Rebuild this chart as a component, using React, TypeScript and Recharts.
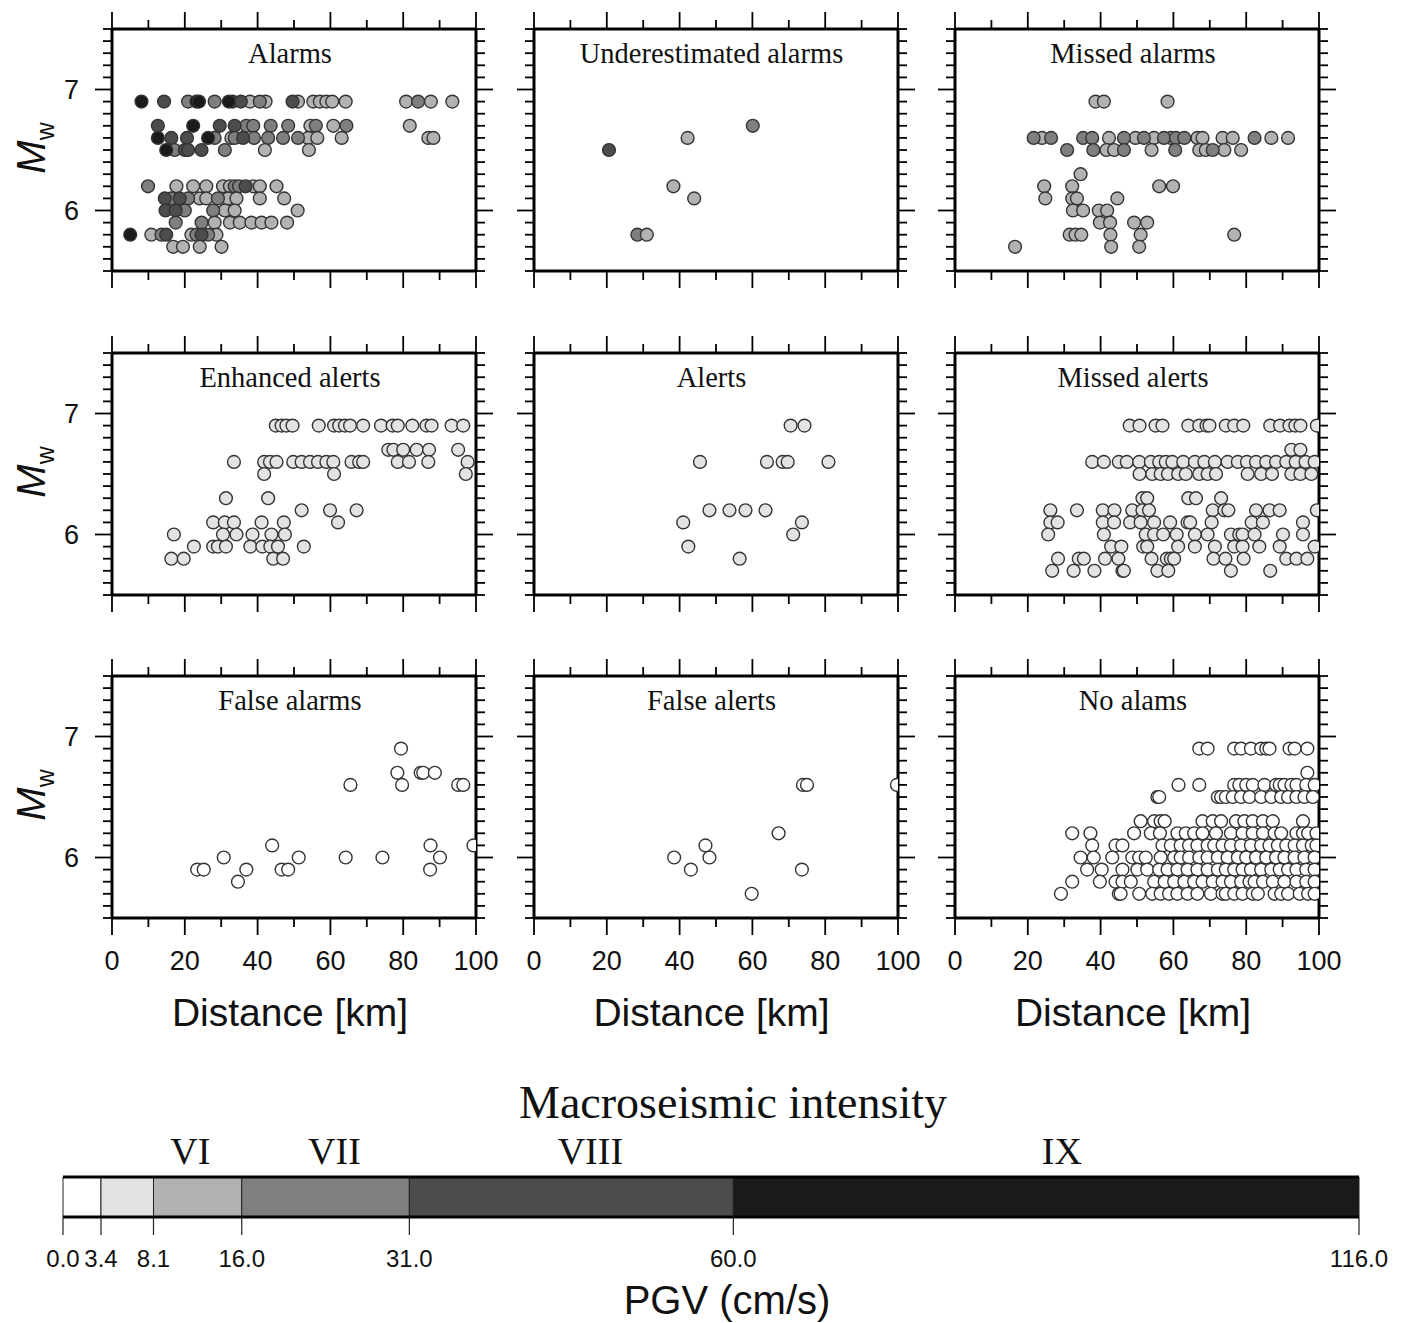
import React from 'react';
import { ScatterChart, Scatter, XAxis, YAxis, BarChart, Bar, ReferenceLine } from 'recharts';

// each row: [Mw, PGV class index, epicentral distances in km]
type Row = [number, number, number[]];

// PGV class boundaries (cm/s) and the grey used for each class
const pgvBreaks = [0, 3.4, 8.1, 16, 31, 60, 116];
const bandFills = ['#ffffff', '#e3e3e3', '#b2b2b2', '#7f7f7f', '#4c4c4c', '#1a1a1a'];
const intensityNames = ['VI', 'VII', 'VIII', 'IX'];
const intensityAt = [11.4, 24.3, 47.2, 89.4];

const distTicks = [0, 10, 20, 30, 40, 50, 60, 70, 80, 90, 100];
const mwTicks = [5.5, 5.6, 5.7, 5.8, 5.9, 6, 6.1, 6.2, 6.3, 6.4, 6.5, 6.6, 6.7, 6.8, 6.9, 7, 7.1, 7.2, 7.3, 7.4, 7.5];

const alarms: Row[] = [
  [6.9, 2, [37.9, 42.2, 51.1, 55.3, 57.1, 58.9, 60.5, 64.2, 80.8, 87.6, 93.5]],
  [6.9, 3, [20.9, 28.2, 40.6, 84.1]],
  [6.9, 4, [14.3, 33.1, 35.4, 49.6]],
  [6.9, 5, [8.1, 23.2, 23.9, 32.1]],
  [6.7, 2, [54.5, 60.8, 81.8]],
  [6.7, 3, [36.9, 38.8, 43.6, 48.4, 56.0, 64.4]],
  [6.7, 4, [12.6, 29.6, 33.7]],
  [6.7, 5, [22.3]],
  [6.6, 2, [32.8, 53.9, 56.4, 63.1, 86.9, 88.3]],
  [6.6, 3, [28.2, 33.7, 39.0, 42.9, 47.0, 51.1]],
  [6.6, 4, [16.3, 20.6, 36.0]],
  [6.6, 5, [12.6, 26.4]],
  [6.5, 2, [42.0, 54.1]],
  [6.5, 3, [17.2, 31.0]],
  [6.5, 4, [20.0, 20.9, 24.6]],
  [6.5, 5, [14.9]],
  [6.2, 2, [17.7, 22.3, 25.9, 30.5, 32.4, 38.8, 40.6, 45.2]],
  [6.2, 3, [9.9, 33.7, 34.9]],
  [6.2, 4, [36.7]],
  [6.1, 2, [24.1, 25.9, 31.9, 34.2, 40.6, 47.3]],
  [6.1, 3, [16.3, 20.9, 29.1]],
  [6.1, 4, [14.5, 18.6]],
  [6.0, 2, [31.0, 33.7, 51.0]],
  [6.0, 3, [20.0, 27.8]],
  [6.0, 4, [14.7, 17.5]],
  [5.9, 2, [28.2, 32.4, 35.1, 38.3, 41.1, 43.8, 48.1]],
  [5.9, 3, [17.5, 24.6]],
  [5.8, 2, [10.8, 21.8, 28.7]],
  [5.8, 3, [13.6, 23.2, 26.4]],
  [5.8, 4, [14.9, 24.6]],
  [5.8, 5, [5.0]],
  [5.7, 2, [16.8, 19.5, 24.1, 30.1]],
];

const underestimatedAlarms: Row[] = [
  [6.7, 3, [60.1]],
  [6.6, 2, [42.2]],
  [6.5, 4, [20.6]],
  [6.2, 2, [38.3]],
  [6.1, 2, [44.0]],
  [5.8, 3, [28.4]],
  [5.8, 2, [31.0]],
];

const missedAlarms: Row[] = [
  [6.9, 2, [38.6, 40.9, 58.4]],
  [6.6, 2, [23.9, 42.3, 49.6, 54.7, 59.3, 66.6, 68.0, 73.5, 76.3, 86.9, 91.5]],
  [6.6, 3, [21.6, 26.4, 35.2, 37.7, 46.4, 51.9, 57.4, 60.7, 63.0, 82.3]],
  [6.5, 2, [41.6, 43.7, 54.0, 67.1, 68.9, 74.0, 78.6]],
  [6.5, 3, [30.8, 38.0, 46.4, 60.5, 70.8]],
  [6.3, 2, [34.5]],
  [6.2, 2, [24.5, 32.2, 56.1, 59.9]],
  [6.1, 2, [24.8, 32.2, 33.5, 44.6]],
  [6.0, 2, [32.4, 35.2, 39.5, 41.8]],
  [5.9, 2, [39.8, 42.6, 49.2, 52.8]],
  [5.8, 2, [31.5, 33.1, 34.7, 42.7, 51.0, 76.7]],
  [5.7, 2, [16.5, 42.9, 50.6]],
];

const enhancedAlerts: Row[] = [
  [6.9, 1, [45.0, 46.6, 47.9, 49.6, 56.8, 61.0, 62.4, 64.0, 65.4, 69.0, 73.9, 77.1, 78.5, 82.5, 86.4, 87.8, 93.3, 96.5]],
  [6.7, 1, [75.9, 77.3, 80.0, 83.7, 87.1, 95.1]],
  [6.6, 1, [33.5, 41.8, 43.4, 45.2, 49.8, 52.1, 54.4, 56.6, 58.9, 60.8, 65.8, 67.9, 69.0, 78.5, 81.6, 86.9, 97.7]],
  [6.5, 1, [41.8, 61.0, 97.2]],
  [6.3, 1, [31.3, 42.9]],
  [6.2, 1, [52.1, 59.9, 67.2]],
  [6.1, 1, [27.8, 31.0, 33.5, 41.1, 47.2, 62.1]],
  [6.0, 1, [17.0, 30.5, 34.2, 38.6, 43.8, 47.5]],
  [5.9, 1, [22.5, 27.8, 29.1, 31.3, 38.0, 41.3, 43.5, 45.6, 52.7]],
  [5.8, 1, [16.3, 19.7, 44.3, 47.0]],
];

const alerts: Row[] = [
  [6.9, 1, [70.5, 74.3]],
  [6.6, 1, [45.6, 64.0, 68.3, 69.7, 80.9]],
  [6.2, 1, [48.2, 53.7, 58.1, 63.6]],
  [6.1, 1, [41.0, 73.6]],
  [6.0, 1, [71.2]],
  [5.9, 1, [42.4]],
  [5.8, 1, [56.5]],
];

const missedAlerts: Row[] = [
  [6.9, 1, [48.0, 50.7, 55.1, 57.0, 64.1, 67.1, 69.1, 69.9, 74.4, 76.7, 79.2, 86.6, 89.3, 91.9, 93.5, 94.9, 99.4]],
  [6.7, 1, [92.4, 94.9]],
  [6.6, 1, [37.7, 40.9, 45.0, 47.2, 50.6, 53.8, 56.1, 57.9, 59.7, 62.7, 65.9, 68.5, 71.4, 74.9, 77.7, 80.2, 82.7, 85.5, 88.2, 91.0, 93.6, 96.3, 98.8]],
  [6.5, 1, [50.7, 54.2, 56.5, 58.5, 61.3, 63.4, 67.1, 69.4, 71.7, 80.4, 84.1, 87.1, 92.4, 94.9, 97.9]],
  [6.3, 1, [51.5, 52.8, 64.1, 66.2, 73.1]],
  [6.2, 1, [26.2, 33.5, 40.6, 43.8, 48.7, 51.5, 53.3, 70.8, 74.0, 75.1, 82.7, 86.4, 89.2, 99.4]],
  [6.1, 1, [26.2, 28.2, 40.6, 43.7, 48.1, 51.0, 54.7, 59.1, 63.9, 64.6, 70.5, 81.5, 84.6, 95.6]],
  [6.0, 1, [25.6, 40.9, 52.4, 54.7, 57.2, 60.9, 65.9, 69.4, 75.8, 78.1, 79.0, 82.3, 90.1, 95.6]],
  [5.9, 1, [42.9, 45.7, 51.7, 52.8, 61.3, 65.9, 71.4, 76.7, 79.0, 83.6, 89.2, 98.8]],
  [5.8, 1, [28.3, 34.0, 35.4, 41.2, 44.9, 54.0, 58.2, 59.3, 60.2, 71.0, 74.3, 79.3, 91.0, 93.8, 96.8]],
  [5.7, 1, [26.7, 32.6, 38.3, 46.0, 46.4, 55.6, 58.6, 75.8, 86.6]],
];

const falseAlarms: Row[] = [
  [6.9, 0, [79.4]],
  [6.7, 0, [78.4, 84.8, 85.5, 88.7]],
  [6.6, 0, [65.5, 79.7, 95.1, 96.5]],
  [6.1, 0, [44.0, 87.5, 99.3]],
  [6.0, 0, [30.7, 51.3, 64.2, 74.3, 90.1]],
  [5.9, 0, [23.4, 25.2, 36.9, 46.6, 48.4, 87.4]],
  [5.8, 0, [34.6]],
];

const falseAlerts: Row[] = [
  [6.6, 0, [73.9, 75.0, 99.7]],
  [6.2, 0, [67.2]],
  [6.1, 0, [47.1]],
  [6.0, 0, [38.5, 48.2]],
  [5.9, 0, [43.1, 73.6]],
  [5.7, 0, [59.8]],
];

const noAlarms: Row[] = [
  [6.9, 0, [67.1, 69.4, 76.7, 78.6, 81.3, 84.1, 85.5, 86.4, 91.9, 93.3, 96.8]],
  [6.7, 0, [96.8]],
  [6.6, 0, [61.4, 67.1, 76.7, 78.1, 80.0, 81.8, 85.0, 88.2, 89.2, 90.5, 92.4, 93.8, 96.5, 98.8]],
  [6.5, 0, [55.6, 56.1, 72.2, 73.1, 74.4, 76.3, 78.6, 80.9, 84.1, 86.9, 89.6, 91.5, 93.8, 96.0, 98.3]],
  [6.3, 0, [51.0, 54.7, 56.5, 57.6, 68.0, 70.8, 73.1, 77.2, 79.5, 81.8, 84.6, 87.3, 95.6]],
  [6.2, 0, [32.2, 37.2, 49.2, 53.8, 56.3, 61.1, 63.4, 65.7, 68.0, 71.7, 75.8, 79.0, 81.8, 84.6, 87.8, 89.6, 93.8, 95.6, 97.0, 99.3]],
  [6.1, 0, [37.7, 44.1, 46.0, 57.0, 59.3, 62.0, 64.3, 66.6, 69.4, 71.2, 73.5, 75.8, 78.6, 81.3, 84.1, 86.4, 88.7, 91.0, 93.3, 95.6, 98.0, 99.3]],
  [6.0, 0, [34.5, 38.1, 43.2, 48.7, 50.6, 52.4, 56.5, 60.2, 62.0, 64.3, 67.1, 69.4, 72.2, 74.9, 77.7, 80.0, 82.7, 85.5, 88.2, 90.5, 93.3, 96.0, 98.8]],
  [5.9, 0, [36.3, 40.3, 46.0, 50.1, 52.8, 56.1, 58.4, 61.1, 63.9, 66.6, 69.4, 72.2, 74.4, 76.7, 79.0, 81.3, 84.1, 86.9, 89.2, 91.5, 93.8, 96.5, 98.8]],
  [5.8, 0, [32.2, 39.8, 44.1, 46.0, 48.3, 54.7, 57.6, 60.2, 63.0, 65.7, 68.0, 70.8, 73.5, 75.8, 78.6, 80.9, 82.3, 84.6, 87.3, 90.5, 93.8, 96.5, 98.8]],
  [5.7, 0, [29.1, 45.0, 45.5, 50.6, 54.2, 56.5, 58.8, 61.1, 63.9, 66.6, 70.3, 73.5, 74.4, 76.7, 79.0, 81.8, 83.2, 87.8, 89.6, 91.5, 94.7, 97.0, 98.8]],
];

const panelTitles = [
  'Alarms', 'Underestimated alarms', 'Missed alarms',
  'Enhanced alerts', 'Alerts', 'Missed alerts',
  'False alarms', 'False alerts', 'No alams',
];
const panelRows = [
  alarms, underestimatedAlarms, missedAlarms,
  enhancedAlerts, alerts, missedAlerts,
  falseAlarms, falseAlerts, noAlarms,
];

// frame geometry of the 3x3 grid
const FRAME_W = 364;
const FRAME_H = 242;
const AX_L = 112;
const AX_R = 30;
const AX_T = 29;
const AX_B = 120;
const colLeft = [112, 533.5, 955];
const rowTop = [29, 353, 676];

const SANS = '"Liberation Sans", Arial, sans-serif';
const SERIF = '"Liberation Serif", "Times New Roman", serif';

const frameLine = { stroke: '#000', strokeWidth: 3 };

const FrameTick = (props: any) => {
  const { x, y, payload, side, showLabel } = props;
  const v = payload.value;
  const vertical = side === 'left' || side === 'right';
  const major = vertical ? Math.abs(v - Math.round(v)) < 1e-6 : v % 20 === 0;
  const len = major ? 17 : 9;
  let line;
  if (side === 'bottom') line = <line x1={x} y1={y} x2={x} y2={y + len} />;
  else if (side === 'top') line = <line x1={x} y1={y} x2={x} y2={y - len} />;
  else if (side === 'left') line = <line x1={x} y1={y} x2={x - len} y2={y} />;
  else line = <line x1={x} y1={y} x2={x + len} y2={y} />;
  return (
    <g stroke="#000" strokeWidth={1.8}>
      {line}
      {showLabel && major && side === 'bottom' && (
        <text x={x} y={y + 43} textAnchor="middle" dominantBaseline="central" stroke="none" fill="#111" fontFamily={SANS} fontSize={27}>
          {v}
        </text>
      )}
      {showLabel && major && side === 'left' && (
        <text x={x - 33} y={y} textAnchor="end" dominantBaseline="central" stroke="none" fill="#111" fontFamily={SANS} fontSize={27}>
          {v}
        </text>
      )}
    </g>
  );
};

const Dot = (p: any) => (
  <circle cx={p.cx} cy={p.cy} r={6.4} fill={bandFills[p.payload.c]} stroke="#333" strokeWidth={1.4} />
);

const Panel = ({ index }: { index: number }) => {
  const col = index % 3;
  const row = Math.floor(index / 3);
  const pts = panelRows[index].flatMap(([m, c, ds]) => ds.map((d) => ({ d, m, c })));
  const common = {
    type: 'number' as const,
    allowDataOverflow: true,
    axisLine: frameLine,
    tickLine: false,
    tickSize: 0,
    tickMargin: 0,
    interval: 0 as const,
  };
  return (
    <>
      <div style={{ position: 'absolute', left: colLeft[col] - AX_L, top: rowTop[row] - AX_T }}>
        <ScatterChart width={AX_L + FRAME_W + AX_R} height={AX_T + FRAME_H + AX_B} margin={{ top: 0, right: 0, bottom: 0, left: 0 }}>
          <XAxis {...common} xAxisId="b" dataKey="d" domain={[0, 100]} ticks={distTicks} orientation="bottom" height={AX_B}
            tick={(p: any) => <FrameTick {...p} side="bottom" showLabel={row === 2} />} />
          <XAxis {...common} xAxisId="t" dataKey="d" domain={[0, 100]} ticks={distTicks} orientation="top" height={AX_T}
            tick={(p: any) => <FrameTick {...p} side="top" />} />
          <YAxis {...common} yAxisId="l" dataKey="m" domain={[5.5, 7.5]} ticks={mwTicks} orientation="left" width={AX_L}
            tick={(p: any) => <FrameTick {...p} side="left" showLabel={col === 0} />} />
          <YAxis {...common} yAxisId="r" dataKey="m" domain={[5.5, 7.5]} ticks={mwTicks} orientation="right" width={AX_R}
            tick={(p: any) => <FrameTick {...p} side="right" />} />
          <Scatter data={pts} xAxisId="b" yAxisId="l" isAnimationActive={false} shape={Dot} />
        </ScatterChart>
      </div>
      <div style={{
        position: 'absolute', left: colLeft[col] + FRAME_W / 2 - 4, top: rowTop[row] + 25,
        transform: 'translate(-50%, -50%)', fontFamily: SERIF, fontSize: 28.5, lineHeight: 1, whiteSpace: 'nowrap', color: '#111',
      }}>
        {panelTitles[index]}
      </div>
      {col === 0 && (
        <div style={{
          position: 'absolute', left: 34, top: rowTop[row] + 119,
          transform: 'translate(-50%, -50%) rotate(-90deg)', fontFamily: SANS, fontSize: 40, lineHeight: 1, whiteSpace: 'nowrap', color: '#111',
        }}>
          <i>M</i><sub style={{ fontSize: 25 }}>w</sub>
        </div>
      )}
      {row === 2 && (
        <div style={{
          position: 'absolute', left: colLeft[col] + FRAME_W / 2 - 4, top: rowTop[row] + FRAME_H + 94,
          transform: 'translate(-50%, -50%)', fontFamily: SANS, fontSize: 39, lineHeight: 1, whiteSpace: 'nowrap', color: '#111',
        }}>
          Distance [km]
        </div>
      )}
    </>
  );
};

// colour scale: one stacked bar, one segment per PGV class
const bandKeys = bandFills.map((_, i) => `b${i}`);
const colorbarData = [
  Object.fromEntries([['name', 'PGV'], ...bandKeys.map((k, i) => [k, pgvBreaks[i + 1] - pgvBreaks[i]])]),
];

const PgvTick = (props: any) => {
  const { x, y, payload } = props;
  return (
    <g>
      <line x1={x} y1={y} x2={x} y2={y + 18} stroke="#222" strokeWidth={1.2} />
      <text x={x} y={y + 41} textAnchor="middle" dominantBaseline="central" fill="#111" fontFamily={SANS} fontSize={24}>
        {Number(payload.value).toFixed(1)}
      </text>
    </g>
  );
};

const intensityLabel = (name: string) => (p: any) => (
  <text x={p.viewBox.x} y={p.viewBox.y - 26} textAnchor="middle" dominantBaseline="central" fill="#111" fontFamily={SERIF} fontSize={38}>
    {name}
  </text>
);

const Colorbar = () => (
  <>
    <div style={{ position: 'absolute', left: 0, top: 1060 }}>
      <BarChart width={1407} height={263} layout="vertical" data={colorbarData} barCategoryGap={0}
        margin={{ top: 0, right: 48, bottom: 0, left: 63 }}>
        <XAxis xAxisId="pgv" type="number" domain={[0, 116]} ticks={pgvBreaks} interval={0} orientation="bottom" height={106}
          axisLine={frameLine} tickLine={false} tickSize={0} tickMargin={0} tick={(p: any) => <PgvTick {...p} />} />
        <XAxis xAxisId="top" type="number" domain={[0, 116]} orientation="top" height={117}
          axisLine={frameLine} tickLine={false} tick={false} />
        <YAxis yAxisId="c" type="category" dataKey="name" width={0} tick={false} tickLine={false} axisLine={frameLine} />
        <YAxis yAxisId="cr" type="category" dataKey="name" orientation="right" width={0} tick={false} tickLine={false} axisLine={frameLine} />
        {bandKeys.map((k, i) => (
          <Bar key={k} dataKey={k} stackId="pgv" xAxisId="pgv" yAxisId="c" fill={bandFills[i]}
            stroke="#222" strokeWidth={1} isAnimationActive={false} />
        ))}
        {intensityAt.map((v, i) => (
          <ReferenceLine key={intensityNames[i]} x={v} xAxisId="pgv" yAxisId="c" stroke="none"
            label={{ content: intensityLabel(intensityNames[i]) }} />
        ))}
      </BarChart>
    </div>
    <div style={{
      position: 'absolute', left: 733, top: 1103, transform: 'translate(-50%, -50%)',
      fontFamily: SERIF, fontSize: 46, lineHeight: 1, whiteSpace: 'nowrap', color: '#111',
    }}>
      Macroseismic intensity
    </div>
    <div style={{
      position: 'absolute', left: 727, top: 1300, transform: 'translate(-50%, -50%)',
      fontFamily: SANS, fontSize: 40, lineHeight: 1, whiteSpace: 'nowrap', color: '#111',
    }}>
      PGV (cm/s)
    </div>
  </>
);

export default function App() {
  return (
    <div style={{ position: 'absolute', left: 0, top: 0, width: 1407, height: 1323, background: '#fff', overflow: 'hidden' }}>
      {panelTitles.map((_, i) => <Panel key={i} index={i} />)}
      <Colorbar />
    </div>
  );
}
